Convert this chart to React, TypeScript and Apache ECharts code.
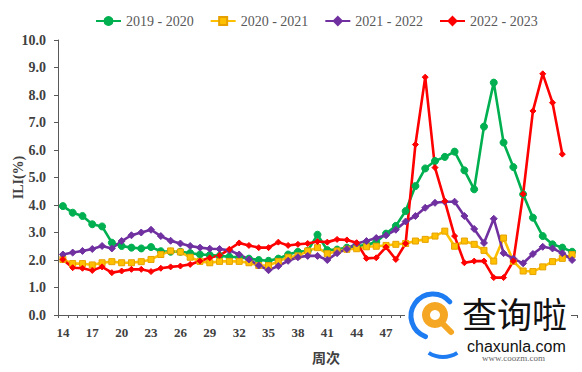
import React, { useEffect, useRef } from "react";
import * as echarts from "echarts";

const weeks: string[] = [
  "14","15","16","17","18","19","20","21","22","23","24","25","26","27","28","29","30","31","32","33",
  "34","35","36","37","38","39","40","41","42","43","44","45","46","47","48","49","50","51","52",
  "1","2","3","4","5","6","7","8","9","10","11","12","13","14",
];

const s2019: number[] = [
  3.96,3.72,3.6,3.3,3.22,2.63,2.51,2.45,2.42,2.47,2.32,2.3,2.3,2.25,2.2,2.18,2.15,2.12,2.1,2.05,
  2.0,1.97,2.05,2.2,2.3,2.33,2.92,2.36,2.38,2.45,2.5,2.55,2.65,2.96,3.24,3.78,4.69,5.33,5.6,5.75,
  5.94,5.26,4.57,6.85,8.45,6.27,5.38,4.39,3.54,2.87,2.57,2.45,2.3,
];
const s2020: number[] = [
  2.02,1.87,1.87,1.82,1.9,1.94,1.9,1.9,1.94,2.02,2.2,2.33,2.29,2.1,1.95,1.9,1.95,1.95,1.95,1.9,
  1.8,1.8,1.95,2.1,2.15,2.33,2.45,2.23,2.33,2.39,2.41,2.48,2.5,2.53,2.57,2.6,2.69,2.75,2.87,3.05,
  2.5,2.69,2.57,2.35,1.96,2.8,1.95,1.6,1.58,1.75,1.94,2.06,2.2,
];
const s2021: number[] = [
  2.2,2.27,2.33,2.4,2.51,2.42,2.69,2.9,3.0,3.1,2.87,2.7,2.6,2.51,2.45,2.41,2.4,2.35,2.2,2.02,
  1.8,1.63,1.78,1.97,2.1,2.15,2.15,2.0,2.25,2.4,2.6,2.69,2.8,2.9,3.1,3.4,3.6,3.9,4.08,4.12,
  4.12,3.6,3.13,2.62,3.5,2.25,2.05,1.88,2.22,2.48,2.42,2.25,2.0,
];
const s2022: number[] = [
  2.02,1.72,1.7,1.62,1.75,1.54,1.6,1.66,1.66,1.58,1.7,1.75,1.78,1.84,1.96,2.08,2.17,2.39,2.62,2.53,
  2.45,2.45,2.65,2.53,2.57,2.6,2.67,2.65,2.75,2.73,2.63,2.06,2.08,2.47,2.02,2.6,6.2,8.65,5.36,4.14,
  2.87,1.9,1.96,1.96,1.36,1.36,1.96,4.4,7.42,8.77,7.72,5.85,
];

const seriesNames: string[] = ["2019 - 2020", "2020 - 2021", "2021 - 2022", "2022 - 2023"];

const serif = "'Liberation Serif', 'Times New Roman', serif";

export default function App() {
  const ref = useRef<HTMLDivElement>(null);
  useEffect(() => {
    if (!ref.current) return;
    const chart = echarts.init(ref.current, undefined, { renderer: "svg" });
    const mk = (name: string, data: number[], color: string, symbol: string, size: number, border?: string) => ({
      name,
      type: "line",
      data,
      symbol,
      symbolSize: size,
      showSymbol: true,
      showAllSymbol: true,
      lineStyle: { color, width: 2.6 },
      itemStyle: { color, borderColor: border || color, borderWidth: 1 },
      z: 2,
    });
    chart.setOption({
      animation: false,
      legend: {
        top: 9,
        left: 90,
        itemWidth: 25,
        itemHeight: 10,
        itemGap: 16,
        textStyle: { fontFamily: serif, fontSize: 14, color: "#595959" },
        data: seriesNames,
      },
      grid: { left: 58, right: 5, top: 40, bottom: 57, outerBoundsMode: "none" },
      xAxis: {
        type: "category",
        data: weeks,
        boundaryGap: true,
        name: "周次",
        nameLocation: "middle",
        nameGap: 35,
        nameMoveOverlap: false,
        nameTextStyle: {
          fontFamily: "'Noto Sans CJK SC', sans-serif",
          fontSize: 14,
          fontWeight: "bold",
          color: "#404040",
          padding: [0, 0, 0, 17],
        },
        axisLine: { lineStyle: { color: "#595959", width: 1 } },
        axisTick: { show: true, interval: 0, length: 3, lineStyle: { color: "#595959" } },
        axisLabel: {
          interval: (idx: number) => idx % 3 === 0 && idx <= 33,
          margin: 11,
          fontFamily: serif,
          fontWeight: "bold",
          fontSize: 13,
          color: "#404040",
        },
        splitLine: { show: false },
      },
      yAxis: {
        type: "value",
        min: 0,
        max: 10,
        interval: 1,
        name: "ILI(%)",
        nameLocation: "middle",
        nameGap: 33,
        nameMoveOverlap: false,
        nameRotate: 90,
        nameTextStyle: { fontFamily: serif, fontSize: 14, fontWeight: "bold", color: "#404040" },
        axisLine: { show: true, lineStyle: { color: "#595959", width: 1 } },
        axisTick: { show: true, length: 4, lineStyle: { color: "#595959" } },
        axisLabel: {
          margin: 12,
          fontFamily: serif,
          fontWeight: "bold",
          fontSize: 14,
          color: "#404040",
          formatter: (v: number) => v.toFixed(1),
        },
        splitLine: { show: false },
      },
      series: [
        mk(seriesNames[0], s2019, "#00B050", "circle", 7),
        mk(seriesNames[1], s2020, "#FFC000", "rect", 6, "#E6A100"),
        mk(seriesNames[2], s2021, "#7030A0", "diamond", 7),
        mk(seriesNames[3], s2022, "#FF0000", "diamond", 6),
      ],
      graphic: [
        {
          type: "group",
          z: 100,
          children: [
            { type: "rect", z: 100, shape: { x: 405, y: 293, width: 166, height: 72 }, style: { fill: "#ffffff" } },
            {
              type: "arc",
              z: 101,
              shape: { cx: 433, cy: 316, r: 22, startAngle: (110 * Math.PI) / 180, endAngle: (320 * Math.PI) / 180, clockwise: true },
              style: { stroke: "#1E7CF2", lineWidth: 5, fill: "none", lineCap: "round" },
            },
            {
              type: "arc",
              z: 101,
              shape: { cx: 443, cy: 330, r: 27, startAngle: (58 * Math.PI) / 180, endAngle: (122 * Math.PI) / 180, clockwise: true },
              style: { stroke: "#1E7CF2", lineWidth: 4, fill: "none" },
            },
            { type: "ring", z: 101, shape: { cx: 435, cy: 315, r: 13, r0: 5 }, style: { fill: "#F5A623" } },
            {
              type: "line",
              z: 101,
              shape: { x1: 442, y1: 323, x2: 451, y2: 332 },
              style: { stroke: "#F5A623", lineWidth: 6, lineCap: "round" },
            },
            {
              type: "text",
              z: 101,
              x: 462,
              y: 312,
              style: {
                text: "查询啦",
                fill: "#111111",
                font: "35px 'Noto Sans CJK SC', sans-serif",
                lineHeight: 34,
                verticalAlign: "middle",
              },
            },
            {
              type: "text",
              z: 101,
              x: 467,
              y: 346,
              style: {
                text: "chaxunla.com",
                fill: "#111111",
                font: "16px 'Liberation Sans', Arial, sans-serif",
                lineHeight: 16,
                verticalAlign: "middle",
              },
            },
            {
              type: "text",
              z: 101,
              x: 482,
              y: 358,
              style: {
                text: "www.coozm.com",
                fill: "#666666",
                font: "9px 'Liberation Serif', serif",
                verticalAlign: "middle",
              },
            },
          ],
        },
      ],
    });
    return () => chart.dispose();
  }, []);
  return <div ref={ref} style={{ width: 582, height: 372, position: "fixed", left: 0, top: 0, background: "#fff" }} />;
}
